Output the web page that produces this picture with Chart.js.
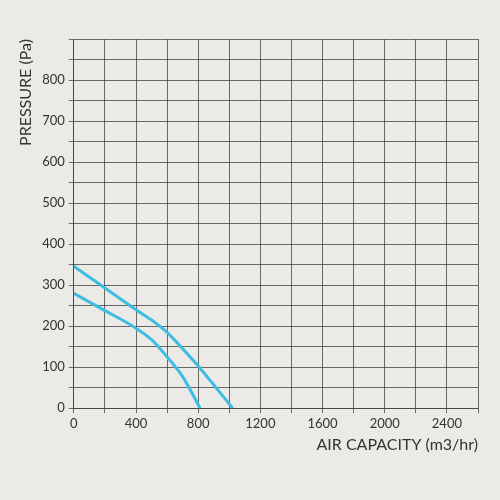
<!DOCTYPE html>
<html>
<head>
<meta charset="utf-8">
<script src="https://cdn.jsdelivr.net/npm/chart.js@4"></script>
<style>
  html, body { margin: 0; padding: 0; background: #ECEAE6; }
  #wrap { width: 500px; height: 500px; }
</style>
</head>
<body>
<div id="wrap"><canvas id="fanChart" width="500" height="500"></canvas></div>
<script>
// fan curves
const highFlow = [0, 200, 400, 500, 600, 700, 800, 900, 1022];
const highPressure = [346, 293, 240, 215, 185, 145, 103, 57, 0];
const lowFlow = [0, 200, 400, 500, 600, 700, 812];
const lowPressure = [280, 238, 195, 167, 125, 77, 0];

const xTicks = [0, 400, 800, 1200, 1600, 2000, 2400];
const yTicks = [0, 100, 200, 300, 400, 500, 600, 700, 800];

const toPoints = (xs, ys) => xs.map((x, i) => ({ x: x, y: ys[i] }));

const lineColor = '#3DBDE2';
const gridColor = 'rgba(60, 60, 60, 0.75)';
const textColor = '#333333';
const font = 'Lato, "Noto Sans", sans-serif';

const ctx = document.getElementById('fanChart').getContext('2d');
new Chart(ctx, {
  type: 'scatter',
  data: {
    datasets: [
      {
        label: 'high',
        data: toPoints(highFlow, highPressure),
        showLine: true,
        borderColor: lineColor,
        borderWidth: 3,
        pointRadius: 0,
        cubicInterpolationMode: 'monotone'
      },
      {
        label: 'low',
        data: toPoints(lowFlow, lowPressure),
        showLine: true,
        borderColor: lineColor,
        borderWidth: 3,
        pointRadius: 0,
        cubicInterpolationMode: 'monotone'
      }
    ]
  },
  options: {
    responsive: false,
    animation: false,
    layout: { padding: { top: 39, right: 22, left: 12, bottom: 42 } },
    plugins: {
      legend: { display: false },
      tooltip: { enabled: false }
    },
    scales: {
      x: {
        type: 'linear',
        min: 0,
        max: 2600,
        afterBuildTicks: (axis) => {
          const t = [];
          for (let v = 0; v <= 2600; v += 200) t.push({ value: v });
          axis.ticks = t;
        },
        grid: { color: gridColor, lineWidth: 1, tickLength: 5 },
        border: { color: gridColor },
        ticks: {
          color: textColor,
          font: { family: font, size: 13 },
          maxRotation: 0,
          autoSkip: false,
          padding: 3,
          callback: (v) => xTicks.includes(v) ? String(v) : ''
        },
        title: {
          display: true,
          text: 'AIR CAPACITY (m3/hr)',
          align: 'end',
          color: textColor,
          font: { family: font, size: 16 },
          padding: { top: 0 }
        }
      },
      y: {
        min: 0,
        max: 900,
        afterBuildTicks: (axis) => {
          const t = [];
          for (let v = 0; v <= 900; v += 50) t.push({ value: v });
          axis.ticks = t;
        },
        grid: { color: gridColor, lineWidth: 1, tickLength: 5 },
        border: { color: gridColor },
        ticks: {
          color: textColor,
          font: { family: font, size: 13 },
          autoSkip: false,
          padding: 4,
          callback: (v) => yTicks.includes(v) ? String(v) : ''
        },
        title: {
          display: true,
          text: 'PRESSURE (Pa)',
          align: 'end',
          color: textColor,
          font: { family: font, size: 16 },
          padding: { bottom: 3 }
        }
      }
    }
  }
});
</script>
</body>
</html>
